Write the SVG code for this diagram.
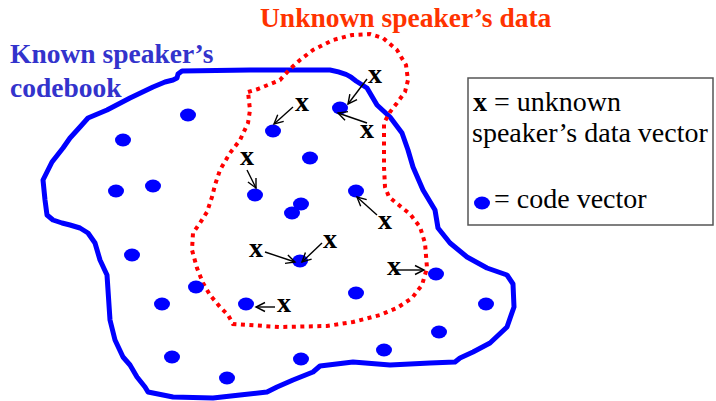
<svg xmlns="http://www.w3.org/2000/svg" width="716" height="401" viewBox="0 0 716 401">
<defs>
<style>
.codebook{fill:none;stroke:#0000ff;stroke-width:5;stroke-linejoin:round;stroke-linecap:round}
.data{fill:none;stroke:#ff0000;stroke-width:4;stroke-dasharray:4 4.5}
.cv{fill:#0000ff}
.x{font-weight:bold;font-size:28px;fill:#000;text-anchor:middle}
.conn{stroke:#000;stroke-width:1.4;fill:none;marker-end:url(#ah)}
.title{font-weight:bold;font-size:27.5px}
.leg{font-size:28px;fill:#000}
</style>
<marker id="ah" markerUnits="userSpaceOnUse" markerWidth="14" markerHeight="12" viewBox="-10 -6 12 12" refX="0" refY="0" orient="auto">
<path d="M-9,-4.5 L0,0 L-9,4.5" fill="none" stroke="#000" stroke-width="1.4"/>
</marker>
</defs>
<rect width="716" height="401" fill="#fff"/>
<g font-family="Liberation Serif, Times New Roman, Tinos, DejaVu Serif, serif">

<g id="known-codebook-region">
<path class="codebook" d="M182,71 L250,70 L330,70 Q348,73 356,81 L367,88 L377,105 L390,117 L402,133 L408,150 L413,167 L423,190 L435,210 L438,228 L450,243 L467,257 L487,268 L507,275 L513,284 L514,307 L507,327 L490,343 L473,352 L460,358 L455,362 L430,363 L390,365 L353,362 L320,366 L313,372 L293,380 L277,387 L267,392 L240,395 L213,398 L173,397 L148,392 L145,387 L137,377 L130,365 L123,357 L115,340 L110,320 L107,275 L100,260 L95,243 L88,233 L80,228 L70,225 L62,223 L53,220 L47,215 L45,200 L43,180 L52,162 L63,148 L70,138 L80,127 L88,118 L107,110 L130,98 L153,87 L165,82 L173,80 L177,78 L178,74 Z"/>
<text class="title" fill="#3333cc" x="10" y="63">Known speaker’s</text>
<text class="title" fill="#3333cc" x="10" y="97">codebook</text>
</g>

<g id="unknown-data-region">
<path class="data" d="M248,92 L258,89 L280,80 L290,69 L300,60 L313,50 L333,40 L352,35 L370,34 L383,38 L397,50 L406,65 L408,80 L405,92 L397,103 L390,112 L384,123 L384,167 L385,187 L389,197 L400,206 L410,214 L420,227 L425,243 L427,268 L422,285 L412,298 L397,308 L380,315 L353,322 L327,326 L280,327 L233,324 L228,315 L220,307 L210,295 L203,283 L197,268 L192,250 L193,233 L200,223 L207,212 L212,197 L215,185 L220,170 L230,153 L240,140 L248,123 L250,110 Z"/>
<text class="title" fill="#ff3300" x="260" y="27">Unknown speaker’s data</text>
</g>

<g id="code-vectors">
<ellipse class="cv" cx="188" cy="115" rx="8" ry="6.5"/>
<ellipse class="cv" cx="123" cy="140" rx="8" ry="6.5"/>
<ellipse class="cv" cx="116" cy="191" rx="8" ry="6.5"/>
<ellipse class="cv" cx="153" cy="186" rx="8" ry="6.5"/>
<ellipse class="cv" cx="132" cy="255" rx="8" ry="6.5"/>
<ellipse class="cv" cx="162" cy="304" rx="8" ry="6.5"/>
<ellipse class="cv" cx="172" cy="357" rx="8" ry="6.5"/>
<ellipse class="cv" cx="227" cy="378" rx="8" ry="6.5"/>
<ellipse class="cv" cx="196" cy="287" rx="8" ry="6.5"/>
<ellipse class="cv" cx="246" cy="304" rx="8" ry="6.5"/>
<ellipse class="cv" cx="273" cy="131" rx="8" ry="6.5"/>
<ellipse class="cv" cx="340" cy="108" rx="8" ry="6.5"/>
<ellipse class="cv" cx="310" cy="158" rx="8" ry="6.5"/>
<ellipse class="cv" cx="255" cy="195" rx="8" ry="6.5"/>
<ellipse class="cv" cx="301" cy="204" rx="8" ry="6.5"/>
<ellipse class="cv" cx="292" cy="213" rx="8" ry="6.5"/>
<ellipse class="cv" cx="356" cy="191" rx="8" ry="6.5"/>
<ellipse class="cv" cx="300" cy="261" rx="8" ry="6.5"/>
<ellipse class="cv" cx="356" cy="293" rx="8" ry="6.5"/>
<ellipse class="cv" cx="436" cy="274" rx="8" ry="6.5"/>
<ellipse class="cv" cx="486" cy="304" rx="8" ry="6.5"/>
<ellipse class="cv" cx="439" cy="332" rx="8" ry="6.5"/>
<ellipse class="cv" cx="384" cy="350" rx="8" ry="6.5"/>
<ellipse class="cv" cx="301" cy="359" rx="8" ry="6.5"/>
</g>

<g id="connectors">
<line class="conn" x1="293" y1="107" x2="274" y2="124"/>
<line class="conn" x1="367" y1="79" x2="348" y2="104"/>
<line class="conn" x1="367" y1="123" x2="338" y2="113"/>
<line class="conn" x1="247" y1="170" x2="256" y2="188"/>
<line class="conn" x1="377" y1="215" x2="357" y2="197"/>
<line class="conn" x1="265" y1="252" x2="295" y2="262"/>
<line class="conn" x1="322" y1="243" x2="302" y2="262"/>
<line class="conn" x1="397" y1="270" x2="424" y2="270"/>
<line class="conn" x1="275" y1="307" x2="256" y2="307"/>
</g>

<g id="data-vectors">
<text class="x" x="302" y="111">x</text>
<text class="x" x="375" y="83">x</text>
<text class="x" x="367" y="138">x</text>
<text class="x" x="247" y="165">x</text>
<text class="x" x="385" y="229">x</text>
<text class="x" x="256" y="257">x</text>
<text class="x" x="330" y="248">x</text>
<text class="x" x="394" y="275">x</text>
<text class="x" x="284" y="312">x</text>
</g>

<g id="legend">
<rect x="468" y="78" width="245" height="147" fill="#fff" stroke="#555" stroke-width="1.5"/>
<text class="leg" x="473" y="111"><tspan font-weight="bold">x</tspan> = unknown</text>
<text class="leg" x="472" y="142">speaker’s data vector</text>
<ellipse class="cv" cx="482" cy="203" rx="8" ry="6.5"/>
<text class="leg" x="494" y="208">= code vector</text>
</g>
</g>
</svg>
